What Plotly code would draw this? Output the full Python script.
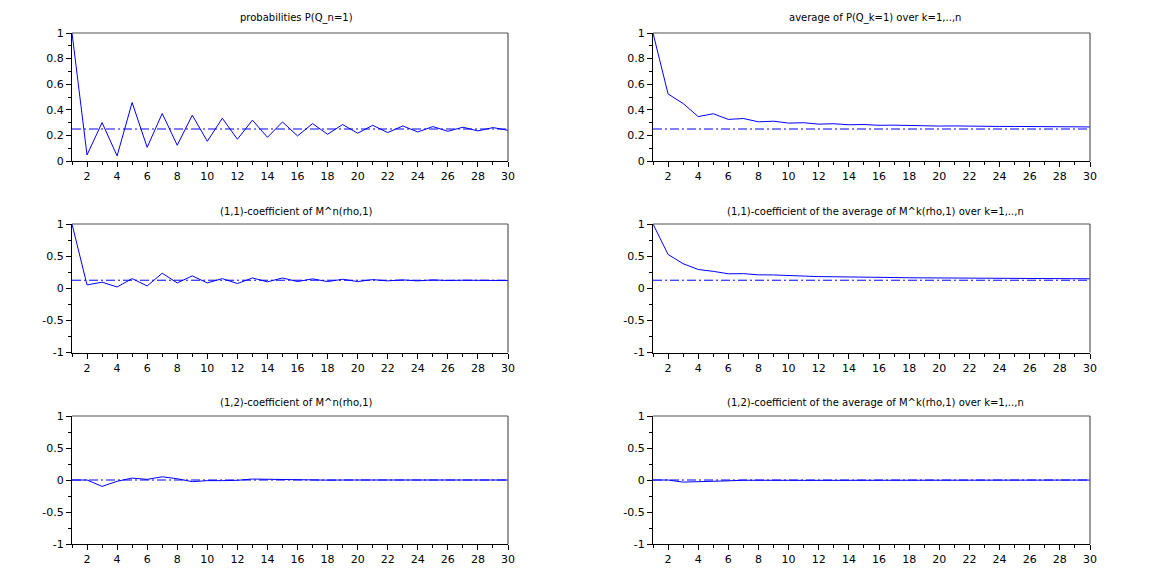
import plotly.graph_objects as go

W, H = 1163, 573
OFF = 8  # page body margin
FW, FH = W - 2 * OFF, H - 2 * OFF

n = list(range(1, 31))

p_q1 = [1.0, 0.047, 0.30, 0.04, 0.457, 0.107, 0.371, 0.123, 0.358, 0.154,
        0.334, 0.17, 0.319, 0.185, 0.305, 0.196, 0.292, 0.209, 0.285, 0.217,
        0.279, 0.222, 0.274, 0.227, 0.269, 0.232, 0.264, 0.235, 0.261, 0.24]
avg_p_q1 = [1.0, 0.524, 0.449, 0.347, 0.369, 0.325, 0.332, 0.306, 0.311, 0.296,
            0.299, 0.288, 0.291, 0.283, 0.285, 0.279, 0.280, 0.276, 0.276, 0.273,
            0.274, 0.271, 0.271, 0.270, 0.270, 0.268, 0.268, 0.267, 0.267, 0.266]
m11 = [1.0, 0.052, 0.094, 0.02, 0.15, 0.036, 0.234, 0.083, 0.193, 0.083,
       0.15, 0.073, 0.16, 0.10, 0.16, 0.104, 0.146, 0.104, 0.14, 0.104,
       0.135, 0.115, 0.13, 0.115, 0.13, 0.12, 0.125, 0.12, 0.125, 0.12]
avg_m11 = [1.0, 0.526, 0.382, 0.292, 0.263, 0.225, 0.227, 0.209, 0.207, 0.195,
           0.190, 0.181, 0.179, 0.173, 0.173, 0.168, 0.167, 0.163, 0.162, 0.159,
           0.158, 0.156, 0.155, 0.153, 0.152, 0.151, 0.150, 0.149, 0.148, 0.147]
m12 = [0.0, 0.0, -0.10, -0.02, 0.03, 0.01, 0.05, 0.02, -0.026, -0.01,
       -0.01, -0.005, 0.015, 0.01, 0.005, 0.0, -0.003, -0.002, 0.0, 0.001,
       0.0, 0.0, 0.0, 0.0, 0.0, 0.0, 0.0, 0.0, 0.0, 0.0]
avg_m12 = [0.0, 0.0, -0.033, -0.03, -0.018, -0.013, -0.004, -0.001, -0.004, -0.005,
           -0.006, -0.006, -0.004, -0.003, -0.002, -0.002, -0.002, -0.002, -0.002, -0.002,
           -0.002, -0.002, -0.002, -0.002, -0.002, -0.001, -0.001, -0.001, -0.001, -0.001]

limits = [0.25, 0.25, 0.125, 0.125, 0.0, 0.0]
series = [p_q1, avg_p_q1, m11, avg_m11, m12, avg_m12]
titles = ["probabilities P(Q_n=1)",
          "average of P(Q_k=1) over k=1,..,n",
          "(1,1)-coefficient of M^n(rho,1)",
          "(1,1)-coefficient of the average of M^k(rho,1) over k=1,..,n",
          "(1,2)-coefficient of M^n(rho,1)",
          "(1,2)-coefficient of the average of M^k(rho,1) over k=1,..,n"]

xticks = list(range(2, 31, 2))
yticks_top = [0, 0.2, 0.4, 0.6, 0.8, 1]
ytick_top_labels = ["0", "0.2", "0.4", "0.6", "0.8", "1"]
yticks_other = [-1, -0.5, 0, 0.5, 1]
ytick_other_labels = ["-1", "-0.5", "0", "0.5", "1"]

# pixel geometry of axes boxes (screen coords)
cols_px = [(72, 508), (653, 1090)]
rows_px = [(33, 161), (224, 352.5), (416, 544)]
title_y_px = [18, 212, 402]
title_x_px = [296, 875]


def px_x(p):
    return (p - OFF) / FW


def px_y(p):
    return 1 - (p - OFF) / FH


fig = go.Figure()
font = dict(family="DejaVu Sans", size=11, color="black")

for i in range(6):
    r, c = divmod(i, 2)
    idx = i + 1
    xa = "x" if idx == 1 else f"x{idx}"
    ya = "y" if idx == 1 else f"y{idx}"
    xdom = [px_x(cols_px[c][0]), px_x(cols_px[c][1])]
    ydom = [px_y(rows_px[r][1]), px_y(rows_px[r][0])]

    fig.add_trace(go.Scatter(x=n, y=[limits[i]] * len(n), mode="lines",
                             line=dict(color="#0000ff", width=1, dash="9px,3px,2px,3px"),
                             xaxis=xa, yaxis=ya, showlegend=False, hoverinfo="skip"))
    fig.add_trace(go.Scatter(x=n, y=series[i], mode="lines",
                             line=dict(color="#0000ff", width=1),
                             xaxis=xa, yaxis=ya, showlegend=False))

    xkey = "xaxis" if idx == 1 else f"xaxis{idx}"
    ykey = "yaxis" if idx == 1 else f"yaxis{idx}"
    fig.layout[xkey] = dict(domain=xdom, anchor=ya, range=[1, 30], automargin=False,
                            tickvals=xticks, ticktext=[str(t) for t in xticks],
                            ticks="outside", ticklen=5, tickcolor="black", tickwidth=1,
                            minor=dict(tickvals=list(range(1, 31, 2)), ticks="outside",
                                       ticklen=3, tickcolor="black"),
                            showline=True, linecolor="black", linewidth=1,
                            showgrid=False, zeroline=False, tickfont=font, fixedrange=True)
    if r == 0:
        yv, yt, mv = yticks_top, ytick_top_labels, [0.1, 0.3, 0.5, 0.7, 0.9]
        yr = [0, 1]
    else:
        yv, yt, mv = yticks_other, ytick_other_labels, [-0.75, -0.25, 0.25, 0.75]
        yr = [-1, 1]
    fig.layout[ykey] = dict(domain=ydom, anchor=xa, range=yr, automargin=False,
                            tickvals=yv, ticktext=yt,
                            ticks="outside", ticklen=5, tickcolor="black", tickwidth=1,
                            minor=dict(tickvals=mv, ticks="outside", ticklen=3, tickcolor="black"),
                            showline=True, linecolor="black", linewidth=1,
                            showgrid=False, zeroline=False, tickfont=font, fixedrange=True)

    # gray top and right frame
    fig.add_shape(type="line", xref="paper", yref="paper",
                  x0=xdom[0], x1=xdom[1], y0=ydom[1], y1=ydom[1],
                  line=dict(color="#555555", width=1.2), layer="above")
    fig.add_shape(type="line", xref="paper", yref="paper",
                  x0=xdom[1], x1=xdom[1], y0=ydom[0], y1=ydom[1],
                  line=dict(color="#555555", width=1.2), layer="above")

    fig.add_annotation(text=titles[i], xref="paper", yref="paper",
                       x=px_x(title_x_px[c]), y=px_y(title_y_px[r]),
                       showarrow=False, font=dict(family="DejaVu Sans", size=10, color="black"),
                       xanchor="center", yanchor="middle")

fig.update_layout(width=FW, height=FH, margin=dict(l=0, r=0, t=0, b=0, autoexpand=False),
                  paper_bgcolor="white", plot_bgcolor="white")

fig.write_html("out.html")
